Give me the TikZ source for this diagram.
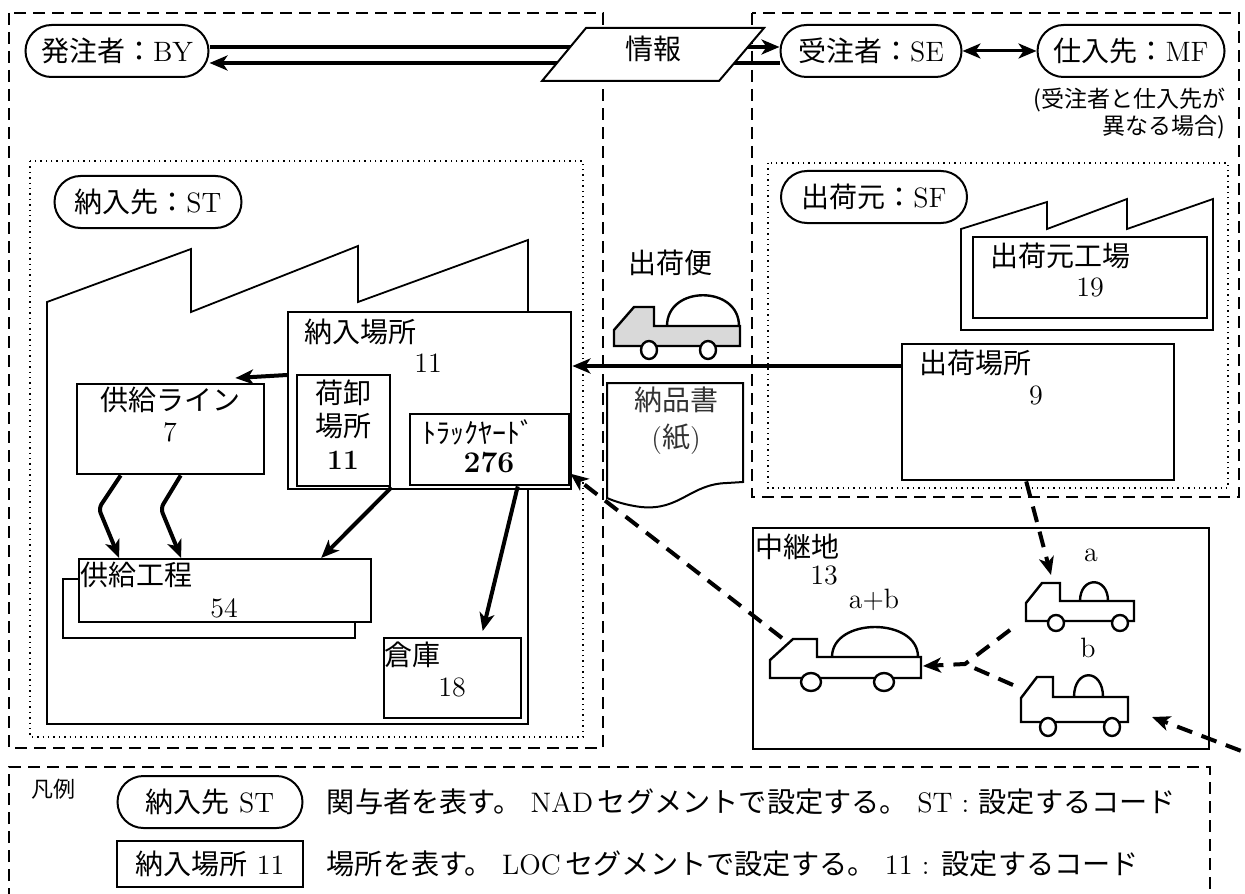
\documentclass[tikz,border=0pt]{standalone}
\usepackage{fontspec}
\newfontfamily\jp{Noto Sans CJK JP}
\usetikzlibrary{arrows.meta,positioning}
\begin{document}
\begin{tikzpicture}[x=.5pt, y=-.5pt, >={Stealth[length=9pt, width=7.5pt, inset=2.5pt]},
  every node/.style={inner sep=0pt},
  lbl/.style={font=\fontsize{14}{16}\selectfont},
  small/.style={font=\jp\fontsize{11.5}{13.5}\selectfont},
  party/.style={lbl, draw, fill=white, line width=1pt, rounded corners=13pt, minimum height=26pt},
  place/.style={draw, fill=white, line width=1.2pt, anchor=north west},
  flow/.style={line width=2pt, ->},
  route/.style={flow, dash pattern=on 8pt off 5pt},
  zone/.style={line width=.8pt, dash pattern=on 6pt off 3.5pt},
  site/.style={line width=.7pt, dotted},
  factory/.style={line width=.9pt},
  lorry/.style={line width=1.2pt}]
  \useasboundingbox (0,0) rectangle (1245,893);
  \draw[zone] (9,13) rectangle (603,748);
  \draw[zone] (752,13) rectangle (1239,497);
  \draw[zone] (9,900) -- (9,767) -- (1210,767) -- (1210,900);
  \draw[site] (30,161) rectangle (583,737);
  \draw[site] (768,163) rectangle (1228,488);
  \draw[factory] (47,724) -- (47,302) -- (191,249) -- (191,312) -- (358,246) -- (358,302) -- (528,240) -- (528,724) -- cycle;
  \draw[factory] (961,330) -- (961,229) -- (1047,202) -- (1047,229) -- (1127,199) -- (1127,229) -- (1213,199) -- (1213,330) -- cycle;

  \node[party, minimum width=91.5pt] (BY) at (117,51) {{\jp 発注者：}BY};
  \node[party, minimum width=90.5pt] (SE) at (871,51) {{\jp 受注者：}SE};
  \node[party, minimum width=93.5pt, right=37pt of SE] (MF) {{\jp 仕入先：}MF};
  \node[party, minimum width=93.5pt] (ST) at (148,202) {{\jp 納入先：}ST};
  \node[party, minimum width=93pt] (SF) at (874,197) {{\jp 出荷元：}SF};
  \draw[flow] ([yshift=2pt]BY.east) -- ([yshift=2pt]SE.west);
  \draw[flow] ([yshift=-6pt]SE.west) -- ([yshift=-6pt]BY.east);
  \draw[flow, line width=1.5pt, <->] (SE) -- (MF);
  \draw[line width=1pt, fill=white] (586,28) -- (764,28) -- (719,81) -- (542,81) -- cycle;
  \node[lbl] (info) at (653,49) {\jp 情報};
  \node[small, align=right, anchor=north east] (note) at (1226,88) {(受注者と仕入先が\\ 異なる場合)};

  \node[place, minimum width=141.5pt, minimum height=88.5pt] (nounyu) at (287,311) {};
  \node[place, minimum width=46.5pt, minimum height=55.5pt] (niorosi) at (296,374) {};
  \node[place, minimum width=79.5pt, minimum height=35.5pt] (yard) at (409,413) {};
  \node[place, minimum width=93.5pt, minimum height=45pt] (supply) at (76,383) {};
  \draw[line width=1.2pt, fill=white] (63,579) rectangle (355,638);
  \node[place, minimum width=146pt, minimum height=31.5pt] (koutei) at (78,558) {};
  \node[place, minimum width=68.5pt, minimum height=40pt] (souko) at (383,637) {};
  \node[place, minimum width=117pt, minimum height=40.5pt] (kojo) at (972,236) {};
  \node[place, minimum width=136pt, minimum height=68pt] (shukka) at (901,343) {};
  \node[place, minimum width=228pt, minimum height=110.5pt] (chukei) at (752,527) {};

  \node[lbl, anchor=west] (nounyu-t) at (304,332) {\jp 納入場所};
  \node[lbl] (nounyu-n) at (428,363) {11};
  \node[lbl, align=center, font=\fontsize{14}{16.5}\selectfont] (niorosi-t) at (343,425) {{\jp 荷卸}\\{\jp 場所}\\\textbf{11}};
  \node[lbl] (yard-t) at (478,432) {\jp ﾄﾗｯｸﾔｰﾄﾞ};
  \node[font=\fontsize{15}{17}\selectfont] (yard-n) at (489,463) {\textbf{276}};
  \node[lbl] (supply-t) at (170,400) {\jp 供給ライン};
  \node[lbl] (supply-n) at (170,432) {7};
  \node[lbl, anchor=west] (koutei-t) at (80,575) {\jp 供給工程};
  \node[lbl] (koutei-n) at (224,608) {54};
  \node[lbl, anchor=west] (souko-t) at (384,655) {\jp 倉庫};
  \node[lbl] (souko-n) at (452,687) {18};
  \node[lbl] (kojo-t) at (1060,256) {\jp 出荷元工場};
  \node[lbl] (kojo-n) at (1090,287) {19};
  \node[lbl, anchor=west] (shukka-t) at (919,363) {\jp 出荷場所};
  \node[lbl] (shukka-n) at (1036,395) {9};
  \node[lbl, anchor=west] (chukei-t) at (755,547) {\jp 中継地};
  \node[lbl] (chukei-n) at (824,575) {13};
  \node[lbl] (load-ab) at (874,600) {a+b};
  \node[lbl] (load-a) at (1091,555) {a};
  \node[lbl] (load-b) at (1088,648) {b};
  \node[lbl] (bin) at (670,263) {\jp 出荷便};

  \draw[line width=1pt, fill=white] (607,383) -- (743,383) -- (743,482) -- (727,483) .. controls (690,484) and (680,511) .. (641,507) .. controls (625,505) and (614,501) .. (607,498) -- cycle;
  \node[lbl, align=center, font=\fontsize{14}{18.5}\selectfont, text=black!80] (slip) at (676,421) {{\jp 納品書}\\({\jp 紙})};

  \draw[lorry, fill=black!15] (614,330) -- (634,307) -- (654,307) -- (654,326) -- (740,326) -- (740,346) -- (614,346) -- cycle;
  \draw[lorry] (667,326) .. controls (667,285) and (739,285) .. (739,326);
  \draw[lorry, fill=white] (649,350) circle[x radius=8, y radius=9] (708,350) circle[x radius=8, y radius=9];
  \draw[lorry, fill=white] (770,660) -- (793,639) -- (817,639) -- (817,657) -- (921,657) -- (921,678) -- (770,678) -- cycle;
  \draw[lorry] (832,657) .. controls (832,617) and (918,617) .. (918,657);
  \draw[lorry, fill=white] (811,682) circle[x radius=10, y radius=9] (884,682) circle[x radius=10, y radius=9];
  \draw[lorry, fill=white] (1026,603) -- (1042,583) -- (1060,583) -- (1060,601) -- (1134,601) -- (1134,621) -- (1026,621) -- cycle;
  \draw[lorry] (1080,601) .. controls (1080,576) and (1108,576) .. (1108,601);
  \draw[lorry, fill=white] (1056,623) circle[radius=8] (1120,623) circle[radius=8];
  \draw[lorry, fill=white] (1021,698) -- (1037,677) -- (1053,677) -- (1053,697) -- (1128,697) -- (1128,722) -- (1021,722) -- cycle;
  \draw[lorry] (1074,697) .. controls (1074,668) and (1103,668) .. (1103,697);
  \draw[lorry, fill=white] (1048,727) circle[x radius=8, y radius=9] (1112,727) circle[x radius=8, y radius=9];

  \coordinate (relayCab) at (782,638);
  \coordinate (relayTail) at (923,666);
  \coordinate (lorryAtop) at (1051,575);
  \coordinate (lorryAnose) at (1010,630);
  \coordinate (lorryBnose) at (1013,685);
  \coordinate (lorryBtail) at (1152,717);
  \coordinate (merge) at (965,664);
  \coordinate (farRight) at (1265,760);

  \draw[flow] ([yshift=-11.5pt]shukka.north west) -- ([yshift=-27.5pt]nounyu.north east);
  \draw[flow] ([yshift=-32pt]nounyu.north west) -- ([xshift=-15pt, yshift=2.5pt]supply.north east);
  \draw[flow, rounded corners=2.5pt] ([xshift=-25pt]supply.south) -- ++(-22,33) -- ([xshift=-53pt]koutei.north);
  \draw[flow, rounded corners=2.5pt] ([xshift=5pt]supply.south) -- ++(-20,33) -- ([xshift=-22pt]koutei.north);
  \draw[flow] (niorosi.south east) -- ([xshift=48pt]koutei.north);
  \draw[flow] ([xshift=14pt]yard.south) -- ([xshift=15pt, yshift=3pt]souko.north);

  \draw[route] ([xshift=-6pt]shukka.south) -- (lorryAtop);
  \draw[route] (lorryAnose) -- (merge) -- (relayTail);
  \draw[route, -] (lorryBnose) -- (merge);
  \draw[route] (relayCab) -- ([yshift=-12pt]yard.east);
  \draw[route] (farRight) -- (lorryBtail);

  \node[font=\fontsize{11}{13}\selectfont] (hanrei) at (53,789) {\jp 凡例};
  \node[party, minimum width=92.5pt] (keyParty) at (210,802) {{\jp 納入先}\ ST};
  \node[lbl, font=\fontsize{14.1}{16}\selectfont, right=11.5pt of keyParty] (keyPartyText) {{\jp 関与者を表す。}\ NAD\,{\jp セグメントで設定する。}\ ST : {\jp 設定するコード}};
  \node[lbl, draw, line width=1.2pt, minimum width=93pt, minimum height=23pt] (keyPlace) at (210,864) {{\jp 納入場所}\ 11};
  \node[lbl, font=\fontsize{14.1}{16}\selectfont, right=11pt of keyPlace] (keyPlaceText) {{\jp 場所を表す。}\ LOC\,{\jp セグメントで設定する。}\ 11 : {\jp 設定するコード}};
\end{tikzpicture}
\end{document}
